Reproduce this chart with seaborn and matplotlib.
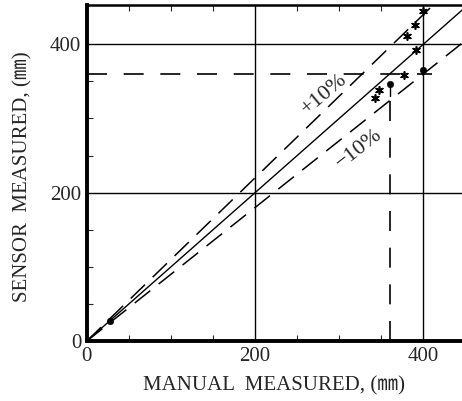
import matplotlib
matplotlib.use("Agg")
import matplotlib.pyplot as plt
import seaborn as sns
import numpy as np
import pandas as pd

# ---- data ----
star_x = [342, 347, 377, 381, 390, 391, 400]
star_y = [328, 338, 359, 411, 426, 392, 445]
dot_x = [27, 360, 400]
dot_y = [27, 347, 365]
ref_x = [0, 460]
ratios = [1.0, 1.1, 0.9]
ref_level = 360
ticks = [0, 200, 400]
tick_labels = ["0", "200", "400"]
xlabel = "MANUAL  MEASURED, (㎜)"
ylabel = "SENSOR  MEASURED, (㎜)"

sns.set_style("white")
plt.rcParams['font.family'] = ['Liberation Serif', 'Noto Sans CJK JP', 'DejaVu Serif']

fig = plt.figure(figsize=(4.62, 4.01), dpi=100)
ax = fig.add_axes([0.188, 0.1496, 0.812, 0.838])

# grid lines
for t in [200, 400]:
    ax.axvline(t, color='black', lw=1.0, zorder=1)
    ax.axhline(t, color='black', lw=1.0, zorder=1)

# reference diagonal lines
for r in ratios:
    df = pd.DataFrame({'x': ref_x, 'y': [r * v for v in ref_x]})
    if r == 1.0:
        sns.lineplot(data=df, x='x', y='y', ax=ax, color='black', lw=1.0)
    else:
        sns.lineplot(data=df, x='x', y='y', ax=ax, color='black', lw=1.1,
                     dashes=False, linestyle=(0, (13, 7)))

# 360 mm guide lines
ax.plot([0, 410], [ref_level, ref_level], color='black', lw=1.2, linestyle=(0, (12, 10)))
ax.plot([ref_level, ref_level], [0, 330], color='black', lw=1.2, linestyle=(0, (12, 10)))
ax.plot([ref_level, ref_level], [330, 347], color='black', lw=1.0)

# points
sns.scatterplot(x=star_x, y=star_y, ax=ax, marker=(6, 2, 0), s=28,
                color='black', linewidth=1.2, edgecolor='black')
sns.scatterplot(x=dot_x, y=dot_y, ax=ax, marker='o', s=22,
                color='black', edgecolor='black')

ax.text(282, 333, "+10%", rotation=40, ha='center', va='center', fontsize=16)
ax.text(324, 259, "−10%", rotation=38, ha='center', va='center', fontsize=16)

ax.set_xlim(0, 446)
ax.set_ylim(0, 453)
ax.set_xticks(ticks)
ax.set_xticklabels(tick_labels)
ax.set_yticks(ticks)
ax.set_yticklabels(tick_labels)
ax.set_xticks(np.arange(50, 450, 50), minor=True)
ax.set_yticks(np.arange(50, 450, 50), minor=True)
ax.tick_params(axis='both', which='major', length=0, labelsize=15, pad=4)
ax.tick_params(axis='both', which='minor', direction='in', length=4, width=0.8,
               top=True, bottom=True, left=True)

ax.set_xlabel(xlabel, fontsize=15, labelpad=8)
ax.set_ylabel(ylabel, fontsize=15)
ax.yaxis.set_label_coords(-0.145, 0.49)

for s in ['left', 'bottom']:
    ax.spines[s].set_linewidth(2.8)
    ax.spines[s].set_color('black')
ax.spines['top'].set_linewidth(1.8)
ax.spines['top'].set_color('black')
ax.spines['right'].set_visible(False)

fig.savefig("out.png", dpi=100)
